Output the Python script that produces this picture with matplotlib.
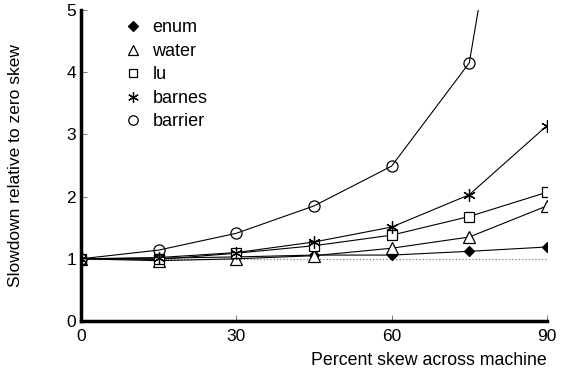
import numpy as np
import matplotlib.pyplot as plt

plt.rcParams['font.family'] = ['Liberation Sans', 'DejaVu Sans']

skew = [0, 15, 30, 45, 60, 75, 90]
enum = [1.0, 1.01, 1.03, 1.06, 1.06, 1.12, 1.19]
water = [1.0, 0.97, 1.0, 1.05, 1.17, 1.35, 1.85]
lu = [1.0, 0.99, 1.09, 1.21, 1.38, 1.68, 2.07]
barnes = [1.0, 1.02, 1.1, 1.27, 1.51, 2.03, 3.14]
barrier = [1.0, 1.14, 1.41, 1.85, 2.49, 4.15, 11.5]

fig = plt.figure(figsize=(5.65, 3.74), dpi=100)
ax = fig.add_axes([0.1434, 0.1417, 0.8246, 0.8316])

ax.plot([0, 90], [1, 1], ls=':', color='gray', lw=0.9)

mk = dict(color='black', lw=0.8, mec='black', mew=0.9)
ax.plot(skew, enum, marker='D', ms=5.5, mfc='black', label='enum', **mk)
ax.plot(skew, water, marker='^', ms=8, mfc='white', label='water', **mk)
ax.plot(skew, lu, marker='s', ms=7, mfc='white', label='lu', **mk)
ax.plot(skew, barnes, marker=(6, 2, 0), ms=9, mfc='white', label='barnes', **mk)
ax.plot(skew, barrier, marker='o', ms=8, mfc='none', label='barrier', **mk)

ax.set_xlim(0, 90)
ax.set_ylim(0, 5)
ax.set_xticks([0, 30, 60, 90])
ax.set_yticks([0, 1, 2, 3, 4, 5])
ax.tick_params(direction='in', length=4, width=0.8, color='gray', labelsize=12.5)
ax.tick_params(axis='x', pad=6)
for s in ['top', 'right']:
    ax.spines[s].set_visible(False)
for s in ['left', 'bottom']:
    ax.spines[s].set_linewidth(2.5)

ax.set_ylabel('Slowdown relative to zero skew', fontsize=12.5)
ax.yaxis.set_label_coords(-0.125, 0.5)
ax.set_xlabel('Percent skew across machine', fontsize=12.8, ha='right')
ax.xaxis.set_label_coords(1.0, -0.1)

leg = ax.legend(loc='upper left', bbox_to_anchor=(0.077, 1.022), frameon=False,
                fontsize=13, handlelength=0, handletextpad=1.07, labelspacing=0.36,
                markerscale=0.85)
for h in leg.legend_handles:
    h.set_linestyle('none')

fig.savefig('out.png', dpi=100)
